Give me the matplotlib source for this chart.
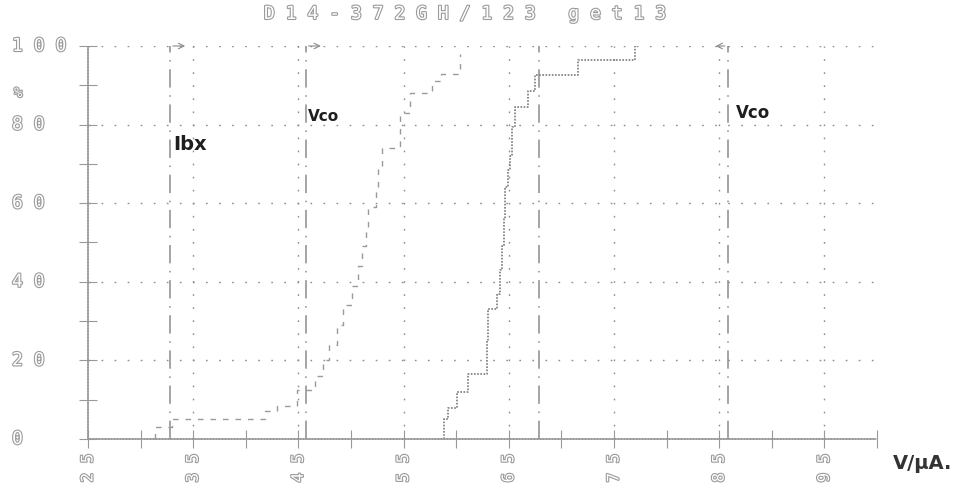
import matplotlib
matplotlib.use("Agg")
import matplotlib.pyplot as plt
import matplotlib.patheffects as pe
from matplotlib.transforms import blended_transform_factory
import numpy as np

# chart data
title = "D14-372GH/123 get13"
x_ticks = [25, 35, 45, 55, 65, 75, 85, 95]
x_tick_labels = ["25", "35", "45", "55", "65", "75", "85", "95"]
x_minor = [30, 40, 50, 60, 70, 80, 90, 100]
y_ticks = [0, 20, 40, 60, 80, 100]
y_tick_labels = ["0", "20", "40", "60", "80", "100"]
y_minor = [10, 30, 50, 70, 90]

# left (sparse) cumulative curve
vco_x = [31.4, 33.0, 41.8, 43.0, 44.9, 46.6, 47.3, 47.9, 48.7, 49.2, 50.1, 50.7,
         51.0, 51.4, 51.6, 52.4, 52.6, 52.9, 54.7, 55.6, 57.7, 58.6, 60.4]
vco_y = [3, 5, 7, 8.5, 12.5, 16, 20, 24, 29, 34, 39, 44,
         49, 54, 59, 64, 69, 74, 83, 88, 91, 93, 98]

# right (dense) cumulative curve
ibx_x = [58.8, 59.2, 60.1, 61.1, 62.9, 63.0, 63.9, 64.2, 64.4, 64.5, 64.6, 64.9,
         65.1, 65.3, 65.6, 66.8, 67.5, 71.6, 77.0]
ibx_y = [5, 8, 12, 16.5, 25, 33, 37, 43, 49, 56, 64, 68.5,
         72, 79.5, 84.5, 88.5, 92.5, 96.5, 100]

# vertical limit lines
limits = [32.8, 45.7, 67.9, 85.8]

grey = "#8c8c8c"
ink = "#1e1e1e"
hollow = [pe.withStroke(linewidth=1.6, foreground="#9a9a9a")]

fig = plt.figure(figsize=(9.65, 4.98), dpi=100)
ax = fig.add_axes([88 / 965, 59 / 498, 789 / 965, 393 / 498])
ax.set_xlim(25, 100)
ax.set_ylim(0, 100)

# dotted grid
for xv in x_ticks[1:]:
    ax.axvline(xv, color=grey, lw=1, ls=(0, (1.2, 8.2)))
for yv in y_ticks[1:]:
    ax.axhline(yv, color=grey, lw=1, ls=(0, (1.2, 8.2)))

# spines
for s in ["top", "right"]:
    ax.spines[s].set_visible(False)
for s in ["left", "bottom"]:
    ax.spines[s].set_color("#999999")
    ax.spines[s].set_linestyle((0, (1, 0.8)))
    ax.spines[s].set_linewidth(1.2)

ax.set_xticks(x_ticks)
ax.set_xticks(x_minor, minor=True)
ax.set_yticks(y_ticks)
ax.set_yticks(y_minor, minor=True)
ax.tick_params(which="both", direction="inout", length=13, width=0.8, color="#999999")
ax.set_xticklabels([" ".join(t) for t in x_tick_labels], rotation=90,
                   family="DejaVu Sans Mono", fontsize=11.5, color="white")
ax.tick_params(axis="x", pad=4)
for lbl in ax.get_xticklabels():
    lbl.set_path_effects(hollow)
ax.set_yticklabels([])

# y labels, left aligned near the page edge
ytr = blended_transform_factory(fig.transFigure, ax.transData)
for yv, lab in zip(y_ticks, y_tick_labels):
    ax.text(12 / 965, yv, " ".join(lab), transform=ytr, ha="left", va="center",
            family="DejaVu Sans Mono", fontsize=13, color="white", path_effects=hollow)
ax.text(14 / 965, 88, "%", transform=ytr, ha="left", va="center",
        family="DejaVu Sans Mono", fontsize=10, color="white", path_effects=hollow)

fig.text(0.482, 0.972, " ".join(title), ha="center", va="center",
         family="DejaVu Sans Mono", fontsize=13, color="white", path_effects=hollow)

# limit lines
for xv in limits:
    ax.plot([xv, xv], [0, 100], color=grey, lw=1.1, ls=(0, (12, 5, 1, 5)))
for x0, x1 in [(32.8, 34.5), (45.7, 47.4), (85.8, 84.4)]:
    ax.annotate("", xy=(x1, 100), xytext=(x0, 100),
                arrowprops=dict(arrowstyle="->", color=grey, lw=0.8),
                annotation_clip=False)

# cumulative step curves
ax.step([vco_x[0]] + vco_x, [0] + vco_y, where="post", color="#9a9a9a",
        lw=1.0, ls=(0, (4, 5)), clip_on=False)
ax.step([ibx_x[0]] + ibx_x, [0] + ibx_y, where="post", color="#7a7a7a",
        lw=1.2, ls=(0, (1, 0.9)), clip_on=False)

# handwritten notes
ax.text(33.1, 75, "Ibx", fontsize=14, fontweight="bold", color=ink, ha="left", va="center")
ax.text(45.9, 82, "Vco", fontsize=11, fontweight="bold", color=ink, ha="left", va="center")
ax.text(86.6, 83, "Vco", fontsize=12, fontweight="bold", color=ink, ha="left", va="center")
fig.text(893 / 965, 1 - 463 / 498, "V/\u03bcA.", fontsize=14, fontweight="bold",
         color="#333333", ha="left", va="center")

fig.savefig("out.png", dpi=100)
